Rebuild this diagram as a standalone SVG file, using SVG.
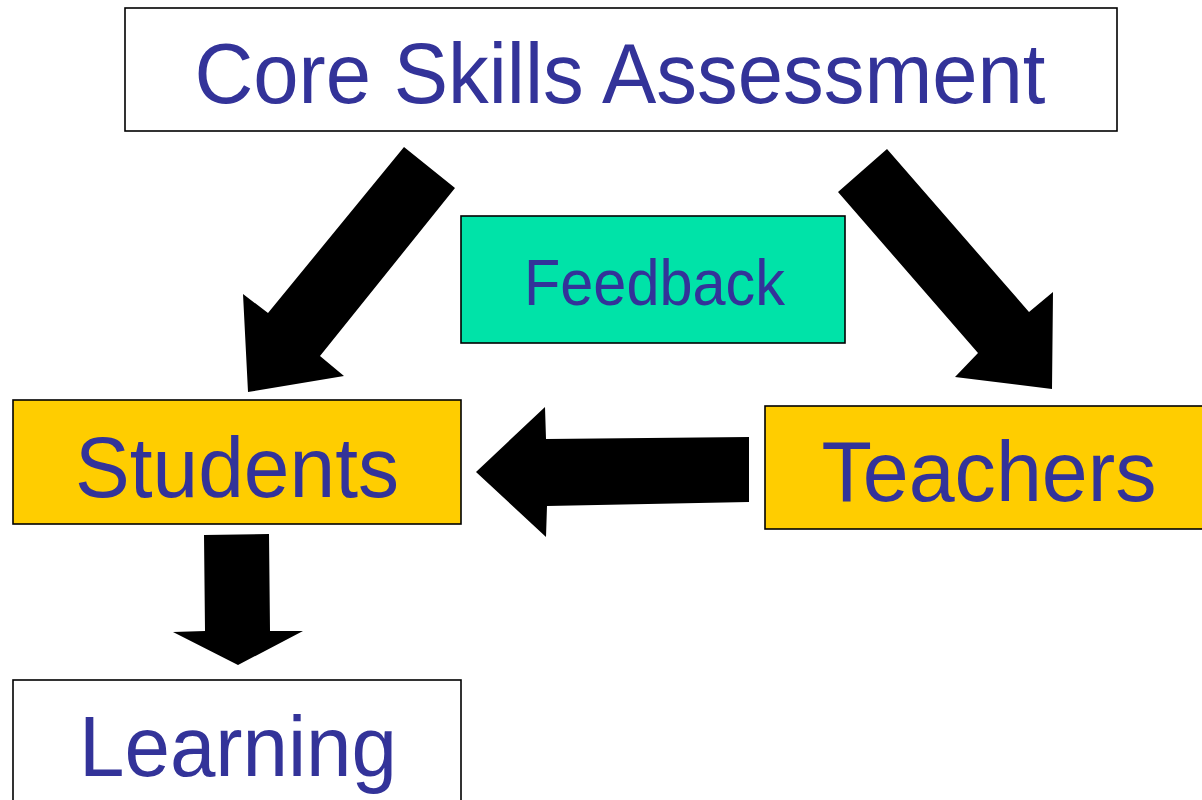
<svg xmlns="http://www.w3.org/2000/svg" width="1202" height="800" viewBox="0 0 1202 800">
<style>
.box{stroke:#000;stroke-width:1.6}
.white{fill:#fff}
.yellow{fill:#FFCD00}
.green{fill:#00E3A8}
.lbl{font-family:"Liberation Sans",Arial,sans-serif;fill:#333399;text-anchor:middle}
.big{font-size:86px}
.mid{font-size:65px}
.arrow{fill:#000}
</style>
<rect width="1202" height="800" fill="#fff"/>
<g id="connectors">
<polygon class="arrow" points="404,147 455,188 320,356 344,376 248,392 243,294 268,313"/>
<polygon class="arrow" points="887,149 1029,312 1053,292 1052,389 955,377 978,353 838,192"/>
<polygon class="arrow" points="476,472 545,407 546,439 749,437 749,502 547,506 546,537"/>
<polygon class="arrow" points="204,535 269,534 270,631 303,631 238,665 173,632 205,631"/>
</g>
<g id="core">
<rect class="box white" x="125" y="8" width="992" height="123"/>
<text class="lbl big" x="620" y="103" textLength="851" lengthAdjust="spacingAndGlyphs">Core Skills Assessment</text>
</g>
<g id="feedback">
<rect class="box green" x="461" y="216" width="384" height="127"/>
<text class="lbl mid" x="654.5" y="305" textLength="261" lengthAdjust="spacingAndGlyphs">Feedback</text>
</g>
<g id="students">
<rect class="box yellow" x="13" y="400" width="448" height="124"/>
<text class="lbl big" x="237" y="497" textLength="324" lengthAdjust="spacingAndGlyphs">Students</text>
</g>
<g id="teachers">
<rect class="box yellow" x="765" y="406" width="450" height="123"/>
<text class="lbl big" x="989" y="501" textLength="335" lengthAdjust="spacingAndGlyphs">Teachers</text>
</g>
<g id="learning">
<rect class="box white" x="13" y="680" width="448" height="140"/>
<text class="lbl big" x="238" y="776" textLength="318" lengthAdjust="spacingAndGlyphs">Learning</text>
</g>
</svg>
